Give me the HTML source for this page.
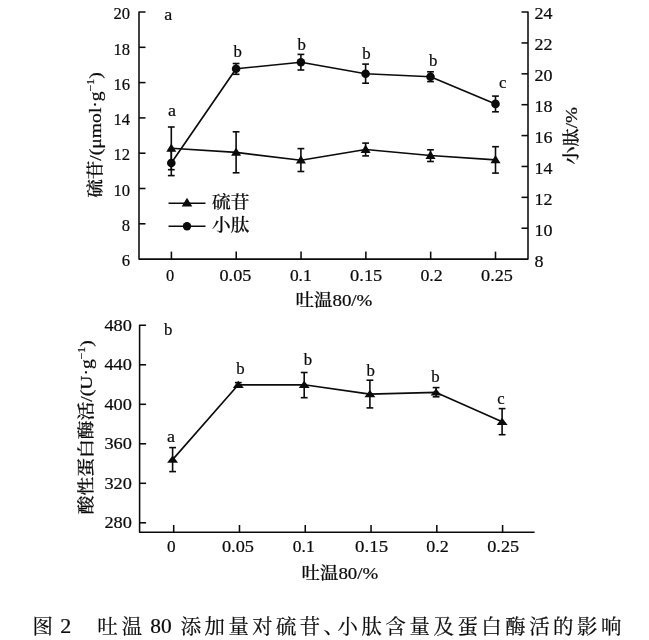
<!DOCTYPE html>
<html lang="zh-CN"><head><meta charset="utf-8"><title>图 2 吐温 80 添加量对硫苷、小肽含量及蛋白酶活的影响</title>
<style>
html,body{margin:0;padding:0;background:#fff;}
body{width:649px;height:640px;overflow:hidden;}
svg{display:block;}
svg text{font-family:"Liberation Serif", "Noto Serif CJK SC", serif;fill:#0b0b0b;stroke:#0b0b0b;stroke-width:0.22px;}
</style></head><body>
<svg width="649" height="640" viewBox="0 0 649 640">
<rect width="649" height="640" fill="#fff"/>
<polyline points="145.50,12.00 139.00,12.00 139.00,259.10 528.00,259.10 528.00,12.00 521.50,12.00" fill="none" stroke="#0b0b0b" stroke-width="1.55" stroke-linejoin="round"/>
<line x1="139.00" y1="223.80" x2="145.50" y2="223.80" stroke="#0b0b0b" stroke-width="1.55"/>
<line x1="139.00" y1="188.50" x2="145.50" y2="188.50" stroke="#0b0b0b" stroke-width="1.55"/>
<line x1="139.00" y1="153.20" x2="145.50" y2="153.20" stroke="#0b0b0b" stroke-width="1.55"/>
<line x1="139.00" y1="117.90" x2="145.50" y2="117.90" stroke="#0b0b0b" stroke-width="1.55"/>
<line x1="139.00" y1="82.60" x2="145.50" y2="82.60" stroke="#0b0b0b" stroke-width="1.55"/>
<line x1="139.00" y1="47.30" x2="145.50" y2="47.30" stroke="#0b0b0b" stroke-width="1.55"/>
<text x="121.70" y="266.30" font-size="17.2" textLength="8.30" lengthAdjust="spacingAndGlyphs" text-anchor="start">6</text>
<text x="121.70" y="231.00" font-size="17.2" textLength="8.30" lengthAdjust="spacingAndGlyphs" text-anchor="start">8</text>
<text x="113.40" y="195.70" font-size="17.2" textLength="16.60" lengthAdjust="spacingAndGlyphs" text-anchor="start">10</text>
<text x="113.40" y="160.40" font-size="17.2" textLength="16.60" lengthAdjust="spacingAndGlyphs" text-anchor="start">12</text>
<text x="113.40" y="125.10" font-size="17.2" textLength="16.60" lengthAdjust="spacingAndGlyphs" text-anchor="start">14</text>
<text x="113.40" y="89.80" font-size="17.2" textLength="16.60" lengthAdjust="spacingAndGlyphs" text-anchor="start">16</text>
<text x="113.40" y="54.50" font-size="17.2" textLength="16.60" lengthAdjust="spacingAndGlyphs" text-anchor="start">18</text>
<text x="113.40" y="19.20" font-size="17.2" textLength="16.60" lengthAdjust="spacingAndGlyphs" text-anchor="start">20</text>
<line x1="521.50" y1="228.22" x2="528.00" y2="228.22" stroke="#0b0b0b" stroke-width="1.55"/>
<line x1="521.50" y1="197.34" x2="528.00" y2="197.34" stroke="#0b0b0b" stroke-width="1.55"/>
<line x1="521.50" y1="166.46" x2="528.00" y2="166.46" stroke="#0b0b0b" stroke-width="1.55"/>
<line x1="521.50" y1="135.58" x2="528.00" y2="135.58" stroke="#0b0b0b" stroke-width="1.55"/>
<line x1="521.50" y1="104.70" x2="528.00" y2="104.70" stroke="#0b0b0b" stroke-width="1.55"/>
<line x1="521.50" y1="73.82" x2="528.00" y2="73.82" stroke="#0b0b0b" stroke-width="1.55"/>
<line x1="521.50" y1="42.94" x2="528.00" y2="42.94" stroke="#0b0b0b" stroke-width="1.55"/>
<text x="534.40" y="266.50" font-size="17.2" textLength="9.00" lengthAdjust="spacingAndGlyphs" text-anchor="start">8</text>
<text x="534.40" y="235.52" font-size="17.2" textLength="18.00" lengthAdjust="spacingAndGlyphs" text-anchor="start">10</text>
<text x="534.40" y="204.54" font-size="17.2" textLength="18.00" lengthAdjust="spacingAndGlyphs" text-anchor="start">12</text>
<text x="534.40" y="173.56" font-size="17.2" textLength="18.00" lengthAdjust="spacingAndGlyphs" text-anchor="start">14</text>
<text x="534.40" y="142.58" font-size="17.2" textLength="18.00" lengthAdjust="spacingAndGlyphs" text-anchor="start">16</text>
<text x="534.40" y="111.60" font-size="17.2" textLength="18.00" lengthAdjust="spacingAndGlyphs" text-anchor="start">18</text>
<text x="534.40" y="80.62" font-size="17.2" textLength="18.00" lengthAdjust="spacingAndGlyphs" text-anchor="start">20</text>
<text x="534.40" y="49.64" font-size="17.2" textLength="18.00" lengthAdjust="spacingAndGlyphs" text-anchor="start">22</text>
<text x="534.40" y="18.66" font-size="17.2" textLength="18.00" lengthAdjust="spacingAndGlyphs" text-anchor="start">24</text>
<line x1="171.40" y1="259.10" x2="171.40" y2="251.60" stroke="#0b0b0b" stroke-width="1.55"/>
<text x="165.90" y="280.80" font-size="17.2" textLength="8.20" lengthAdjust="spacingAndGlyphs" text-anchor="start">0</text>
<line x1="236.22" y1="259.10" x2="236.22" y2="251.60" stroke="#0b0b0b" stroke-width="1.55"/>
<text x="219.50" y="280.80" font-size="17.2" textLength="31.80" lengthAdjust="spacingAndGlyphs" text-anchor="start">0.05</text>
<line x1="301.04" y1="259.10" x2="301.04" y2="251.60" stroke="#0b0b0b" stroke-width="1.55"/>
<text x="289.90" y="280.80" font-size="17.2" textLength="21.80" lengthAdjust="spacingAndGlyphs" text-anchor="start">0.1</text>
<line x1="365.86" y1="259.10" x2="365.86" y2="251.60" stroke="#0b0b0b" stroke-width="1.55"/>
<text x="350.10" y="280.80" font-size="17.2" textLength="32.20" lengthAdjust="spacingAndGlyphs" text-anchor="start">0.15</text>
<line x1="430.68" y1="259.10" x2="430.68" y2="251.60" stroke="#0b0b0b" stroke-width="1.55"/>
<text x="420.45" y="280.80" font-size="17.2" textLength="22.30" lengthAdjust="spacingAndGlyphs" text-anchor="start">0.2</text>
<line x1="495.50" y1="259.10" x2="495.50" y2="251.60" stroke="#0b0b0b" stroke-width="1.55"/>
<text x="481.10" y="280.80" font-size="17.2" textLength="31.80" lengthAdjust="spacingAndGlyphs" text-anchor="start">0.25</text>
<text x="295.40" y="306.20" font-size="16.8" textLength="77.00" lengthAdjust="spacingAndGlyphs" text-anchor="start" font-weight="500">吐温<tspan font-size="17.2" font-weight="400">80/%</tspan></text>
<text transform="translate(100.8,197.8) rotate(-90)" font-size="16.6" font-weight="500" textLength="125.5" lengthAdjust="spacingAndGlyphs">硫苷<tspan font-size="17.5" font-weight="400">/(μmol·g</tspan><tspan font-size="10.5" font-weight="400" dy="-7">−1</tspan><tspan font-size="17.5" font-weight="400" dy="7">)</tspan></text>
<text transform="translate(577.2,164.6) rotate(-90)" font-size="16.6" font-weight="500" textLength="57.5" lengthAdjust="spacingAndGlyphs">小肽<tspan font-size="17.5" font-weight="400">/%</tspan></text>
<polyline points="171.30,148.30 236.10,152.40 300.90,160.20 365.60,149.50 430.50,155.50 495.50,159.90" fill="none" stroke="#0b0b0b" stroke-width="1.65" stroke-linejoin="round"/>
<polyline points="171.30,163.00 236.10,68.80 300.90,62.20 365.60,73.70 430.50,76.70 495.50,103.90" fill="none" stroke="#0b0b0b" stroke-width="1.65" stroke-linejoin="round"/>
<line x1="171.30" y1="127.00" x2="171.30" y2="169.70" stroke="#0b0b0b" stroke-width="1.6"/>
<line x1="167.90" y1="127.00" x2="174.70" y2="127.00" stroke="#0b0b0b" stroke-width="1.6"/>
<line x1="167.90" y1="169.70" x2="174.70" y2="169.70" stroke="#0b0b0b" stroke-width="1.6"/>
<line x1="236.10" y1="131.80" x2="236.10" y2="172.80" stroke="#0b0b0b" stroke-width="1.6"/>
<line x1="232.70" y1="131.80" x2="239.50" y2="131.80" stroke="#0b0b0b" stroke-width="1.6"/>
<line x1="232.70" y1="172.80" x2="239.50" y2="172.80" stroke="#0b0b0b" stroke-width="1.6"/>
<line x1="300.90" y1="148.60" x2="300.90" y2="171.50" stroke="#0b0b0b" stroke-width="1.6"/>
<line x1="297.50" y1="148.60" x2="304.30" y2="148.60" stroke="#0b0b0b" stroke-width="1.6"/>
<line x1="297.50" y1="171.50" x2="304.30" y2="171.50" stroke="#0b0b0b" stroke-width="1.6"/>
<line x1="365.60" y1="143.10" x2="365.60" y2="155.90" stroke="#0b0b0b" stroke-width="1.6"/>
<line x1="362.20" y1="143.10" x2="369.00" y2="143.10" stroke="#0b0b0b" stroke-width="1.6"/>
<line x1="362.20" y1="155.90" x2="369.00" y2="155.90" stroke="#0b0b0b" stroke-width="1.6"/>
<line x1="430.50" y1="149.80" x2="430.50" y2="161.50" stroke="#0b0b0b" stroke-width="1.6"/>
<line x1="427.10" y1="149.80" x2="433.90" y2="149.80" stroke="#0b0b0b" stroke-width="1.6"/>
<line x1="427.10" y1="161.50" x2="433.90" y2="161.50" stroke="#0b0b0b" stroke-width="1.6"/>
<line x1="495.50" y1="146.70" x2="495.50" y2="173.10" stroke="#0b0b0b" stroke-width="1.6"/>
<line x1="492.10" y1="146.70" x2="498.90" y2="146.70" stroke="#0b0b0b" stroke-width="1.6"/>
<line x1="492.10" y1="173.10" x2="498.90" y2="173.10" stroke="#0b0b0b" stroke-width="1.6"/>
<line x1="171.30" y1="150.40" x2="171.30" y2="175.60" stroke="#0b0b0b" stroke-width="1.6"/>
<line x1="167.90" y1="150.40" x2="174.70" y2="150.40" stroke="#0b0b0b" stroke-width="1.6"/>
<line x1="167.90" y1="175.60" x2="174.70" y2="175.60" stroke="#0b0b0b" stroke-width="1.6"/>
<line x1="236.10" y1="63.50" x2="236.10" y2="74.30" stroke="#0b0b0b" stroke-width="1.6"/>
<line x1="232.70" y1="63.50" x2="239.50" y2="63.50" stroke="#0b0b0b" stroke-width="1.6"/>
<line x1="232.70" y1="74.30" x2="239.50" y2="74.30" stroke="#0b0b0b" stroke-width="1.6"/>
<line x1="300.90" y1="54.40" x2="300.90" y2="70.00" stroke="#0b0b0b" stroke-width="1.6"/>
<line x1="297.50" y1="54.40" x2="304.30" y2="54.40" stroke="#0b0b0b" stroke-width="1.6"/>
<line x1="297.50" y1="70.00" x2="304.30" y2="70.00" stroke="#0b0b0b" stroke-width="1.6"/>
<line x1="365.60" y1="64.10" x2="365.60" y2="83.20" stroke="#0b0b0b" stroke-width="1.6"/>
<line x1="362.20" y1="64.10" x2="369.00" y2="64.10" stroke="#0b0b0b" stroke-width="1.6"/>
<line x1="362.20" y1="83.20" x2="369.00" y2="83.20" stroke="#0b0b0b" stroke-width="1.6"/>
<line x1="430.50" y1="71.80" x2="430.50" y2="81.60" stroke="#0b0b0b" stroke-width="1.6"/>
<line x1="427.10" y1="71.80" x2="433.90" y2="71.80" stroke="#0b0b0b" stroke-width="1.6"/>
<line x1="427.10" y1="81.60" x2="433.90" y2="81.60" stroke="#0b0b0b" stroke-width="1.6"/>
<line x1="495.50" y1="96.10" x2="495.50" y2="111.80" stroke="#0b0b0b" stroke-width="1.6"/>
<line x1="492.10" y1="96.10" x2="498.90" y2="96.10" stroke="#0b0b0b" stroke-width="1.6"/>
<line x1="492.10" y1="111.80" x2="498.90" y2="111.80" stroke="#0b0b0b" stroke-width="1.6"/>
<polygon points="171.30,143.40 166.30,151.70 176.30,151.70" fill="#0b0b0b"/>
<polygon points="236.10,147.50 231.10,155.80 241.10,155.80" fill="#0b0b0b"/>
<polygon points="300.90,155.30 295.90,163.60 305.90,163.60" fill="#0b0b0b"/>
<polygon points="365.60,144.60 360.60,152.90 370.60,152.90" fill="#0b0b0b"/>
<polygon points="430.50,150.60 425.50,158.90 435.50,158.90" fill="#0b0b0b"/>
<polygon points="495.50,155.00 490.50,163.30 500.50,163.30" fill="#0b0b0b"/>
<circle cx="171.30" cy="163.00" r="4.3" fill="#0b0b0b"/>
<circle cx="236.10" cy="68.80" r="4.3" fill="#0b0b0b"/>
<circle cx="300.90" cy="62.20" r="4.3" fill="#0b0b0b"/>
<circle cx="365.60" cy="73.70" r="4.3" fill="#0b0b0b"/>
<circle cx="430.50" cy="76.70" r="4.3" fill="#0b0b0b"/>
<circle cx="495.50" cy="103.90" r="4.3" fill="#0b0b0b"/>
<text x="164.20" y="19.50" font-size="17.6" textLength="8.00" lengthAdjust="spacingAndGlyphs" text-anchor="start">a</text>
<text x="168.00" y="115.80" font-size="17.6" textLength="8.00" lengthAdjust="spacingAndGlyphs" text-anchor="start">a</text>
<text x="233.40" y="57.40" font-size="17.6" textLength="8.40" lengthAdjust="spacingAndGlyphs" text-anchor="start">b</text>
<text x="297.40" y="50.30" font-size="17.6" textLength="8.40" lengthAdjust="spacingAndGlyphs" text-anchor="start">b</text>
<text x="362.20" y="59.10" font-size="17.6" textLength="8.40" lengthAdjust="spacingAndGlyphs" text-anchor="start">b</text>
<text x="429.00" y="66.20" font-size="17.6" textLength="8.40" lengthAdjust="spacingAndGlyphs" text-anchor="start">b</text>
<text x="498.90" y="88.40" font-size="17.6" textLength="7.40" lengthAdjust="spacingAndGlyphs" text-anchor="start">c</text>
<line x1="168.50" y1="203.20" x2="205.50" y2="203.20" stroke="#0b0b0b" stroke-width="1.6"/>
<polygon points="187.00,197.80 181.70,206.40 192.30,206.40" fill="#0b0b0b"/>
<line x1="168.50" y1="226.30" x2="205.50" y2="226.30" stroke="#0b0b0b" stroke-width="1.6"/>
<circle cx="187.00" cy="226.30" r="4.2" fill="#0b0b0b"/>
<text x="212.00" y="207.80" font-size="17.5" textLength="37.40" lengthAdjust="spacingAndGlyphs" text-anchor="start" font-weight="500">硫苷</text>
<text x="212.00" y="231.20" font-size="17.5" textLength="37.40" lengthAdjust="spacingAndGlyphs" text-anchor="start" font-weight="500">小肽</text>
<polyline points="146.10,325.30 139.60,325.30 139.60,532.30 534.60,532.30" fill="none" stroke="#0b0b0b" stroke-width="1.55" stroke-linejoin="round"/>
<line x1="139.60" y1="522.80" x2="146.10" y2="522.80" stroke="#0b0b0b" stroke-width="1.55"/>
<line x1="139.60" y1="483.30" x2="146.10" y2="483.30" stroke="#0b0b0b" stroke-width="1.55"/>
<line x1="139.60" y1="443.80" x2="146.10" y2="443.80" stroke="#0b0b0b" stroke-width="1.55"/>
<line x1="139.60" y1="404.30" x2="146.10" y2="404.30" stroke="#0b0b0b" stroke-width="1.55"/>
<line x1="139.60" y1="364.80" x2="146.10" y2="364.80" stroke="#0b0b0b" stroke-width="1.55"/>
<text x="104.40" y="528.10" font-size="17.2" textLength="27.50" lengthAdjust="spacingAndGlyphs" text-anchor="start">280</text>
<text x="104.40" y="488.60" font-size="17.2" textLength="27.50" lengthAdjust="spacingAndGlyphs" text-anchor="start">320</text>
<text x="104.40" y="449.10" font-size="17.2" textLength="27.50" lengthAdjust="spacingAndGlyphs" text-anchor="start">360</text>
<text x="104.40" y="409.60" font-size="17.2" textLength="27.50" lengthAdjust="spacingAndGlyphs" text-anchor="start">400</text>
<text x="104.40" y="370.10" font-size="17.2" textLength="27.50" lengthAdjust="spacingAndGlyphs" text-anchor="start">440</text>
<text x="104.40" y="330.60" font-size="17.2" textLength="27.50" lengthAdjust="spacingAndGlyphs" text-anchor="start">480</text>
<line x1="173.70" y1="532.30" x2="173.70" y2="525.00" stroke="#0b0b0b" stroke-width="1.55"/>
<text x="167.00" y="552.30" font-size="17.2" textLength="8.60" lengthAdjust="spacingAndGlyphs" text-anchor="start">0</text>
<line x1="239.48" y1="532.30" x2="239.48" y2="525.00" stroke="#0b0b0b" stroke-width="1.55"/>
<text x="221.98" y="552.30" font-size="17.2" textLength="32.00" lengthAdjust="spacingAndGlyphs" text-anchor="start">0.05</text>
<line x1="305.26" y1="532.30" x2="305.26" y2="525.00" stroke="#0b0b0b" stroke-width="1.55"/>
<text x="292.86" y="552.30" font-size="17.2" textLength="21.80" lengthAdjust="spacingAndGlyphs" text-anchor="start">0.1</text>
<line x1="371.04" y1="532.30" x2="371.04" y2="525.00" stroke="#0b0b0b" stroke-width="1.55"/>
<text x="355.14" y="552.30" font-size="17.2" textLength="33.00" lengthAdjust="spacingAndGlyphs" text-anchor="start">0.15</text>
<line x1="436.82" y1="532.30" x2="436.82" y2="525.00" stroke="#0b0b0b" stroke-width="1.55"/>
<text x="426.17" y="552.30" font-size="17.2" textLength="22.50" lengthAdjust="spacingAndGlyphs" text-anchor="start">0.2</text>
<line x1="502.60" y1="532.30" x2="502.60" y2="525.00" stroke="#0b0b0b" stroke-width="1.55"/>
<text x="487.20" y="552.30" font-size="17.2" textLength="32.00" lengthAdjust="spacingAndGlyphs" text-anchor="start">0.25</text>
<text x="301.60" y="579.00" font-size="16.8" textLength="76.60" lengthAdjust="spacingAndGlyphs" text-anchor="start" font-weight="500">吐温<tspan font-size="17.2" font-weight="400">80/%</tspan></text>
<text transform="translate(91.7,514.3) rotate(-90)" font-size="16.8" font-weight="500" textLength="174" lengthAdjust="spacingAndGlyphs">酸性蛋白酶活<tspan font-size="17.5" font-weight="400">/(U·g</tspan><tspan font-size="10.5" font-weight="400" dy="-7">−1</tspan><tspan font-size="17.5" font-weight="400" dy="7">)</tspan></text>
<polyline points="172.60,459.60 238.30,384.80 304.20,384.80 369.90,394.10 436.10,392.40 502.10,421.80" fill="none" stroke="#0b0b0b" stroke-width="1.65" stroke-linejoin="round"/>
<line x1="172.60" y1="447.60" x2="172.60" y2="471.60" stroke="#0b0b0b" stroke-width="1.6"/>
<line x1="169.20" y1="447.60" x2="176.00" y2="447.60" stroke="#0b0b0b" stroke-width="1.6"/>
<line x1="169.20" y1="471.60" x2="176.00" y2="471.60" stroke="#0b0b0b" stroke-width="1.6"/>
<line x1="238.30" y1="382.60" x2="238.30" y2="387.00" stroke="#0b0b0b" stroke-width="1.6"/>
<line x1="234.90" y1="382.60" x2="241.70" y2="382.60" stroke="#0b0b0b" stroke-width="1.6"/>
<line x1="234.90" y1="387.00" x2="241.70" y2="387.00" stroke="#0b0b0b" stroke-width="1.6"/>
<line x1="304.20" y1="372.50" x2="304.20" y2="397.70" stroke="#0b0b0b" stroke-width="1.6"/>
<line x1="300.80" y1="372.50" x2="307.60" y2="372.50" stroke="#0b0b0b" stroke-width="1.6"/>
<line x1="300.80" y1="397.70" x2="307.60" y2="397.70" stroke="#0b0b0b" stroke-width="1.6"/>
<line x1="369.90" y1="380.20" x2="369.90" y2="407.90" stroke="#0b0b0b" stroke-width="1.6"/>
<line x1="366.50" y1="380.20" x2="373.30" y2="380.20" stroke="#0b0b0b" stroke-width="1.6"/>
<line x1="366.50" y1="407.90" x2="373.30" y2="407.90" stroke="#0b0b0b" stroke-width="1.6"/>
<line x1="436.10" y1="387.60" x2="436.10" y2="396.80" stroke="#0b0b0b" stroke-width="1.6"/>
<line x1="432.70" y1="387.60" x2="439.50" y2="387.60" stroke="#0b0b0b" stroke-width="1.6"/>
<line x1="432.70" y1="396.80" x2="439.50" y2="396.80" stroke="#0b0b0b" stroke-width="1.6"/>
<line x1="502.10" y1="408.60" x2="502.10" y2="434.70" stroke="#0b0b0b" stroke-width="1.6"/>
<line x1="498.70" y1="408.60" x2="505.50" y2="408.60" stroke="#0b0b0b" stroke-width="1.6"/>
<line x1="498.70" y1="434.70" x2="505.50" y2="434.70" stroke="#0b0b0b" stroke-width="1.6"/>
<polygon points="172.60,455.60 167.10,462.70 178.10,462.70" fill="#0b0b0b"/>
<polygon points="238.30,380.80 232.80,387.90 243.80,387.90" fill="#0b0b0b"/>
<polygon points="304.20,380.80 298.70,387.90 309.70,387.90" fill="#0b0b0b"/>
<polygon points="369.90,390.10 364.40,397.20 375.40,397.20" fill="#0b0b0b"/>
<polygon points="436.10,388.40 430.60,395.50 441.60,395.50" fill="#0b0b0b"/>
<polygon points="502.10,417.80 496.60,424.90 507.60,424.90" fill="#0b0b0b"/>
<text x="163.90" y="335.00" font-size="17.6" textLength="8.40" lengthAdjust="spacingAndGlyphs" text-anchor="start">b</text>
<text x="167.00" y="441.70" font-size="17.6" textLength="8.00" lengthAdjust="spacingAndGlyphs" text-anchor="start">a</text>
<text x="236.30" y="374.40" font-size="17.6" textLength="8.40" lengthAdjust="spacingAndGlyphs" text-anchor="start">b</text>
<text x="303.80" y="365.20" font-size="17.6" textLength="8.40" lengthAdjust="spacingAndGlyphs" text-anchor="start">b</text>
<text x="366.60" y="375.60" font-size="17.6" textLength="8.40" lengthAdjust="spacingAndGlyphs" text-anchor="start">b</text>
<text x="431.30" y="381.70" font-size="17.6" textLength="8.40" lengthAdjust="spacingAndGlyphs" text-anchor="start">b</text>
<text x="497.20" y="403.90" font-size="17.6" textLength="7.40" lengthAdjust="spacingAndGlyphs" text-anchor="start">c</text>
<g font-size="20.4" font-family='"Noto Serif CJK SC", "Liberation Serif", serif'>
<text x="32.6" y="633.60">图</text>
<text x="60.20" y="633.00" font-size="20" textLength="11.00" lengthAdjust="spacingAndGlyphs" text-anchor="start" font-family='"Liberation Serif", "Noto Serif CJK SC", serif'>2</text>
<text x="97.2 121.8" y="633.60">吐温</text>
<text x="150.20" y="633.00" font-size="20" textLength="21.40" lengthAdjust="spacingAndGlyphs" text-anchor="start" font-family='"Liberation Serif", "Noto Serif CJK SC", serif'>80</text>
<text x="180.8 204.6 228.4 252.2 276.0 299.8 323.6" y="633.60">添加量对硫苷、</text>
<text x="337.6 361.6 385.5 409.5 433.4 457.4 481.3 505.2 529.2 553.1 577.1 601.0" y="633.60">小肽含量及蛋白酶活的影响</text>
</g>
</svg>
</body></html>
